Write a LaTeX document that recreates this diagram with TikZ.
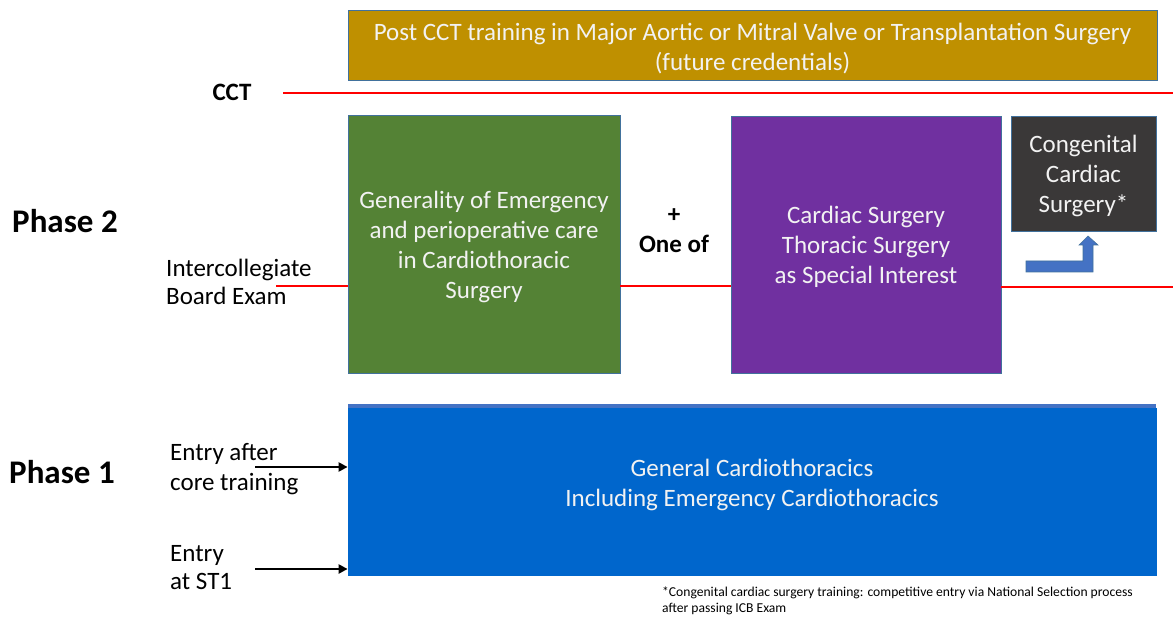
\documentclass[tikz,border=0pt]{standalone}
\usepackage{fontspec}
\setmainfont{Carlito}
\usetikzlibrary{arrows.meta}
\definecolor{goldbox}{HTML}{BF9000}
\definecolor{greenbox}{HTML}{548235}
\definecolor{purplebox}{HTML}{7030A0}
\definecolor{darkbox}{HTML}{3A3838}
\definecolor{bluebox}{HTML}{0066CC}
\definecolor{boxedge}{HTML}{41719C}
\definecolor{arrowblue}{HTML}{4472C4}
\definecolor{boxtext}{HTML}{F2F2F2}
\tikzset{
  panel/.style={draw=boxedge, line width=0.8pt, inner sep=0pt},
  paneltext/.style={inner sep=0pt, text=boxtext, align=center, font=\fontsize{25}{30}\selectfont},
  label/.style={inner sep=0pt, align=left, anchor=west, font=\fontsize{25}{28.5}\selectfont},
  phase/.style={inner sep=0pt, anchor=west, font=\fontsize{33}{36}\selectfont\bfseries},
  redline/.style={draw=red, line width=1.5pt},
  entry/.style={line width=2.6pt, -{Triangle[length=9pt,width=9pt]}}
}
\begin{document}
\begin{tikzpicture}[x=1pt,y=-1pt]
\useasboundingbox (0,0) rectangle (1173,617);

% top band: post-CCT training
\node[panel, fill=goldbox, minimum width=809pt, minimum height=70pt] (post) at (752.5,45) {};
\node[paneltext] (postt) at ([yshift=-4pt]post.center)
  {Post CCT training in Major Aortic or Mitral Valve or Transplantation Surgery\\(future credentials)};

% CCT line
\node[inner sep=0pt, font=\fontsize{25}{28}\selectfont\bfseries] (cct) at (232,92) {CCT};
\coordinate (cctL) at (283,93);
\coordinate (cctR) at (1173,93);
\draw[redline] (cctL) -- (cctR);

% phase 2 boxes
\node[panel, fill=greenbox, minimum width=272pt, minimum height=258pt] (green) at (484,244) {};
\node[paneltext] (greent) at ([yshift=-3pt]green.center)
  {Generality of Emergency\\and perioperative care\\in Cardiothoracic\\Surgery};
\node[panel, fill=purplebox, minimum width=270pt, minimum height=257pt] (purple) at (866,244.5) {};
\node[paneltext] (purplet) at ([yshift=-2.5pt]purple.center)
  {Cardiac Surgery\\Thoracic Surgery\\as Special Interest};
\node[panel, fill=darkbox, minimum width=145pt, minimum height=115pt] (cong) at (1083.5,173.5) {};
\node[paneltext] (congt) at ([yshift=-2pt]cong.center)
  {Congenital\\Cardiac\\Surgery*};

\node[inner sep=0pt, font=\fontsize{25}{28}\selectfont\bfseries] (plus) at (674,216) {+};
\node[inner sep=0pt, font=\fontsize{25}{28}\selectfont\bfseries] (oneof) at (674,244) {One of};

% board exam line
\node[label] (icb) at (166,282) {Intercollegiate\\Board Exam};
\coordinate (icbL) at (276,286);
\coordinate (icbR) at (1173,287);
\draw[redline] (icbL) -- (green.west |- icbL);
\draw[redline] (green.east |- icbL) -- (purple.west |- icbL);
\draw[redline] (purple.east |- icbR) -- (icbR);

% bent arrow into congenital surgery
\filldraw[fill=arrowblue, draw=boxedge, line width=0.6pt]
  (1026,261) -- (1083,261) -- (1083,245) -- (1079,245) -- (1088,236) -- (1098,245)
  -- (1093,245) -- (1093,272) -- (1026,272) -- cycle;

\node[phase] (ph2) at (12,221) {Phase 2};
\node[phase] (ph1) at (9,472) {Phase 1};

% phase 1 box
\node[panel, fill=bluebox, draw=bluebox, minimum width=808pt, minimum height=167pt] (blue) at (752,491.5) {};
\fill[arrowblue] (blue.north west) rectangle ([yshift=4pt]blue.north east);
\node[paneltext] (bluet) at ([yshift=7pt]blue.center)
  {General Cardiothoracics\\Including Emergency Cardiothoracics};

% entry routes
\node[label, font=\fontsize{25}{30}\selectfont] (core) at (170,469.5) {Entry after\\core training};
\node[label] (st1) at (170,567.5) {Entry\\at ST1};
\coordinate (coreS) at (255,467);
\coordinate (st1S) at (255,569);
\draw[entry] (coreS) -- (blue.west |- coreS);
\draw[entry] (st1S) -- (blue.west |- st1S);

% footnote
\node[inner sep=0pt, anchor=west, align=left, font=\fontsize{13.6}{16.5}\selectfont] (note) at (662,601)
  {*Congenital cardiac surgery training: competitive entry via National Selection process\\after passing ICB Exam};
\end{tikzpicture}
\end{document}
